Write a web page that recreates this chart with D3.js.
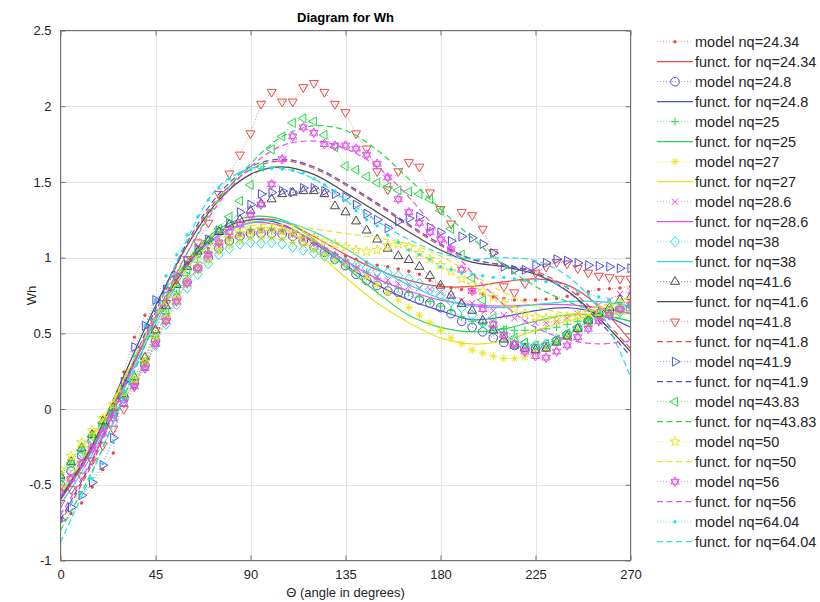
<!DOCTYPE html>
<html>
<head>
<meta charset="utf-8">
<script src="https://cdn.jsdelivr.net/npm/d3@7"></script>
<style>
  body { margin: 0; background: #fff; }
  svg { display: block; font-family: "Liberation Sans", Arial, sans-serif; }
</style>
</head>
<body>
<svg id="chart" width="820" height="602"></svg>
<script>
// ---- data -------------------------------------------------------------
const modelAngles = [0,5,10,15,20,25,30,35,40,45,50,55,60,65,70,75,80,85,90,95,100,105,110,115,120,125,130,135,140,145,150,155,160,165,170,175,180,185,190,195,200,205,210,215,220,225,230,235,240,245,250,255,260,265,270];
const fnAngles = [0,15,30,45,60,75,90,105,120,135,150,165,180,195,210,225,240,255,270];

const nqValues = ["24.34","24.8","25","27","28.6","38","41.6","41.8","41.9","43.83","50","56","64.04"];

const xTicks = [0,45,90,135,180,225,270];
const yTicks = [-1,-0.5,0,0.5,1,1.5,2,2.5];

// model results (one value every 5 degrees)
const model2434 = [-0.735,-0.69,-0.62,-0.515,-0.40,-0.29,0.245,0.475,0.62,0.72,0.80,0.88,0.95,1.01,1.06,1.10,1.13,1.15,1.17,
  1.175,1.18,1.17,1.15,1.12,1.09,1.06,1.03,1.01,0.99,0.97,0.95,0.94,0.925,0.91,0.89,0.85,0.82,0.80,0.79,0.78,0.76,0.74,0.73,0.72,0.72,0.72,0.725,0.73,0.745,0.76,0.775,0.79,0.795,0.80,0.81];
const model248 = [-0.50,-0.41,-0.31,-0.21,-0.12,-0.03,0.07,0.17,0.29,0.45,0.60,0.73,0.84,0.93,1.00,1.06,1.11,1.14,1.16,
  1.16,1.16,1.155,1.14,1.11,1.07,1.035,0.99,0.947,0.89,0.85,0.816,0.78,0.77,0.75,0.72,0.70,0.67,0.63,0.58,0.54,0.51,0.47,0.44,0.42,0.405,0.40,0.41,0.45,0.49,0.53,0.585,0.63,0.65,0.66,0.66];
const model25 = [-0.43,-0.34,-0.25,-0.17,-0.09,0.0,0.09,0.19,0.31,0.48,0.63,0.76,0.88,0.97,1.04,1.09,1.13,1.16,1.18,
  1.19,1.19,1.18,1.16,1.13,1.10,1.06,1.02,0.98,0.94,0.90,0.86,0.83,0.80,0.77,0.74,0.71,0.68,0.65,0.61,0.58,0.56,0.54,0.53,0.52,0.52,0.52,0.53,0.54,0.56,0.58,0.60,0.62,0.63,0.64,0.65];
const model27 = [-0.42,-0.33,-0.24,-0.16,-0.08,0.01,0.09,0.18,0.29,0.44,0.58,0.71,0.82,0.91,0.98,1.04,1.08,1.11,1.13,
  1.13,1.13,1.12,1.10,1.08,1.05,1.02,0.98,0.95,0.92,0.87,0.82,0.77,0.72,0.67,0.62,0.57,0.52,0.47,0.43,0.39,0.37,0.35,0.335,0.335,0.345,0.37,0.40,0.44,0.48,0.52,0.56,0.60,0.63,0.66,0.68];
const model286 = [-0.53,-0.44,-0.34,-0.24,-0.14,-0.04,0.06,0.16,0.28,0.44,0.59,0.72,0.84,0.93,1.01,1.07,1.12,1.15,1.17,
  1.18,1.18,1.17,1.15,1.12,1.09,1.05,1.01,0.97,0.93,0.90,0.87,0.85,0.83,0.81,0.80,0.79,0.77,0.75,0.72,0.70,0.68,0.65,0.62,0.60,0.58,0.57,0.57,0.58,0.60,0.63,0.66,0.69,0.72,0.76,0.78];
const model38 = [-0.47,-0.38,-0.29,-0.20,-0.11,-0.02,0.07,0.16,0.27,0.42,0.56,0.69,0.80,0.89,0.96,1.02,1.06,1.09,1.10,
  1.095,1.10,1.09,1.07,1.05,1.03,1.01,0.99,0.97,0.95,0.93,0.91,0.90,0.88,0.86,0.83,0.79,0.75,0.71,0.67,0.62,0.57,0.52,0.48,0.45,0.43,0.42,0.43,0.46,0.49,0.53,0.56,0.59,0.62,0.64,0.66];
const model416 = [-0.44,-0.35,-0.26,-0.17,-0.08,0.01,0.10,0.21,0.34,0.52,0.68,0.82,0.94,1.04,1.11,1.17,1.22,1.25,1.31,
  1.357,1.386,1.42,1.43,1.44,1.44,1.42,1.34,1.30,1.24,1.18,1.12,1.06,1.01,0.985,0.94,0.88,0.816,0.75,0.695,0.65,0.585,0.52,0.46,0.42,0.40,0.39,0.40,0.44,0.48,0.53,0.585,0.63,0.67,0.72,0.74];
const model418 = [-0.62,-0.53,-0.44,-0.34,-0.24,-0.13,0.0,0.15,0.32,0.52,0.70,0.86,0.99,1.10,1.23,1.42,1.555,1.68,1.82,
  2.015,2.094,2.03,2.03,2.125,2.153,2.094,2.015,1.96,1.82,1.72,1.57,1.45,1.57,1.63,1.60,1.43,1.32,1.225,1.30,1.28,1.19,1.035,0.81,0.77,0.83,0.90,0.94,0.97,0.96,0.93,0.90,0.88,0.87,0.86,0.86];
const model419 = [-0.73,-0.65,-0.57,-0.485,-0.37,-0.19,0.18,0.41,0.55,0.72,0.79,0.88,0.98,1.06,1.12,1.18,1.23,1.30,1.35,
  1.42,1.43,1.44,1.43,1.46,1.46,1.44,1.42,1.40,1.35,1.29,1.25,1.195,1.24,1.26,1.27,1.20,1.167,1.11,1.14,1.13,1.09,1.03,0.94,0.92,0.92,0.95,0.965,0.99,0.98,0.965,0.95,0.945,0.94,0.93,0.93];
const model4383 = [-0.45,-0.36,-0.27,-0.18,-0.09,0.0,0.09,0.19,0.31,0.48,0.64,0.79,0.92,1.03,1.11,1.19,1.27,1.375,1.48,
  1.60,1.715,1.80,1.89,1.92,1.90,1.81,1.73,1.605,1.58,1.535,1.495,1.467,1.445,1.436,1.42,1.386,1.31,1.19,1.02,0.866,0.72,0.60,0.52,0.47,0.44,0.42,0.43,0.46,0.50,0.54,0.58,0.62,0.65,0.67,0.68];
const model50 = [-0.40,-0.31,-0.22,-0.14,-0.06,0.03,0.11,0.20,0.31,0.46,0.60,0.73,0.84,0.94,1.02,1.08,1.13,1.16,1.18,
  1.19,1.19,1.18,1.17,1.15,1.13,1.11,1.09,1.07,1.05,1.04,1.05,1.08,1.09,1.07,1.03,0.99,0.95,0.91,0.86,0.82,0.78,0.74,0.70,0.66,0.63,0.61,0.60,0.60,0.61,0.62,0.64,0.66,0.68,0.70,0.72];
const model56 = [-0.55,-0.46,-0.36,-0.26,-0.16,-0.06,0.04,0.15,0.27,0.43,0.58,0.71,0.83,0.93,1.02,1.10,1.17,1.22,1.28,
  1.35,1.485,1.65,1.80,1.86,1.825,1.75,1.74,1.74,1.72,1.68,1.62,1.53,1.386,1.30,1.23,1.17,1.12,1.055,0.92,0.78,0.66,0.56,0.49,0.43,0.38,0.35,0.34,0.38,0.42,0.475,0.53,0.58,0.62,0.66,0.69];
const model6404 = [-0.68,-0.62,-0.55,-0.46,-0.36,-0.22,0.12,0.35,0.55,0.72,0.88,1.02,1.15,1.27,1.38,1.46,1.52,1.56,1.58,
  1.585,1.59,1.585,1.575,1.56,1.52,1.48,1.44,1.38,1.31,1.25,1.21,1.15,1.10,1.05,1.02,0.99,0.94,0.92,0.90,0.89,0.88,0.87,0.87,0.86,0.85,0.85,0.84,0.83,0.81,0.78,0.76,0.74,0.72,0.70,0.68];

// fitted functions (one value every 15 degrees)
const funct2434 = [-0.58,-0.26,0.17,0.60,0.96,1.17,1.25,1.24,1.14,1.02,0.92,0.85,0.81,0.81,0.84,0.86,0.82,0.68,0.45];
const funct248  = [-0.60,-0.27,0.16,0.59,0.95,1.17,1.25,1.22,1.10,0.95,0.82,0.72,0.65,0.59,0.61,0.65,0.67,0.63,0.54];
const funct25   = [-0.57,-0.25,0.18,0.61,0.98,1.19,1.27,1.25,1.12,0.94,0.77,0.62,0.54,0.51,0.53,0.58,0.62,0.62,0.58];
const funct27   = [-0.55,-0.23,0.19,0.61,0.97,1.17,1.24,1.20,1.05,0.87,0.70,0.57,0.47,0.43,0.45,0.52,0.58,0.62,0.63];
const funct286  = [-0.59,-0.27,0.16,0.59,0.95,1.15,1.23,1.21,1.11,0.98,0.86,0.78,0.72,0.69,0.68,0.69,0.69,0.67,0.63];
const funct38   = [-0.63,-0.30,0.13,0.56,0.93,1.14,1.23,1.24,1.17,1.06,0.93,0.82,0.73,0.68,0.67,0.69,0.71,0.71,0.68];
const funct416  = [-0.59,-0.24,0.22,0.68,1.08,1.38,1.55,1.60,1.55,1.43,1.30,1.17,1.05,0.97,0.94,0.89,0.78,0.60,0.38];
const funct418  = [-0.75,-0.36,0.14,0.64,1.08,1.40,1.58,1.64,1.59,1.48,1.35,1.21,1.08,0.99,0.95,0.91,0.80,0.62,0.40];
const funct419  = [-0.73,-0.34,0.16,0.66,1.10,1.42,1.60,1.65,1.60,1.49,1.36,1.22,1.09,0.99,0.95,0.90,0.78,0.58,0.35];
const funct4383 = [-0.80,-0.41,0.08,0.58,1.03,1.38,1.62,1.80,1.87,1.84,1.71,1.52,1.32,1.13,0.95,0.81,0.71,0.64,0.58];
const funct50   = [-0.52,-0.20,0.20,0.60,0.93,1.13,1.21,1.22,1.19,1.16,1.13,1.09,1.01,0.89,0.77,0.68,0.63,0.62,0.65];
const funct56   = [-0.70,-0.33,0.14,0.61,1.03,1.36,1.60,1.74,1.77,1.72,1.60,1.40,1.15,0.90,0.69,0.54,0.46,0.43,0.45];
const funct6404 = [-0.88,-0.42,0.08,0.62,1.12,1.47,1.59,1.59,1.52,1.38,1.24,1.12,1.03,0.99,1.00,0.98,0.88,0.66,0.21];

const modelSets = [model2434, model248, model25, model27, model286, model38, model416,
                   model418, model419, model4383, model50, model56, model6404];
const functSets = [funct2434, funct248, funct25, funct27, funct286, funct38, funct416,
                   funct418, funct419, funct4383, funct50, funct56, funct6404];

// ---- styles -----------------------------------------------------------
const palette = {
  r: "#e84a4a", b: "#5050d2", g: "#22dc44", y: "#e6e61e",
  m: "#ec4cec", c: "#2adcea", k: "#4a4a4a"
};
const seriesStyle = [
  { c: "r", mk: "dot",      dash: false },
  { c: "b", mk: "circle",   dash: false },
  { c: "g", mk: "plus",     dash: false },
  { c: "y", mk: "asterisk", dash: false },
  { c: "m", mk: "times",    dash: false },
  { c: "c", mk: "diamond",  dash: false },
  { c: "k", mk: "triUp",    dash: false },
  { c: "r", mk: "triDown",  dash: true },
  { c: "b", mk: "triRight", dash: true },
  { c: "g", mk: "triLeft",  dash: true },
  { c: "y", mk: "penta",    dash: true },
  { c: "m", mk: "hexa",     dash: true },
  { c: "c", mk: "dot",      dash: true }
];
const dashPattern = "6,3.5";

// marker shapes centred on (0,0)
function polygon(n, r, rot) {
  const pts = d3.range(n).map(i => {
    const a = rot + i * 2 * Math.PI / n;
    return [r * Math.cos(a), r * Math.sin(a)];
  });
  return "M" + pts.map(p => p[0].toFixed(2) + "," + p[1].toFixed(2)).join("L") + "Z";
}
function star(n, ro, ri, rot) {
  const pts = [];
  for (let i = 0; i < 2 * n; i++) {
    const a = rot + i * Math.PI / n, r = i % 2 ? ri : ro;
    pts.push([r * Math.cos(a), r * Math.sin(a)]);
  }
  return "M" + pts.map(p => p[0].toFixed(2) + "," + p[1].toFixed(2)).join("L") + "Z";
}
function markerPath(kind) {
  const up = -Math.PI / 2;
  switch (kind) {
    case "dot":      return "M1.7,0A1.7,1.7 0 1 1 -1.7,0A1.7,1.7 0 1 1 1.7,0Z";
    case "circle":   return "M4.3,0A4.3,4.3 0 1 1 -4.3,0A4.3,4.3 0 1 1 4.3,0Z";
    case "plus":     return "M-4,0H4M0,-4V4";
    case "times":    return "M-3.2,-3.2L3.2,3.2M-3.2,3.2L3.2,-3.2";
    case "asterisk": return "M-4,0H4M0,-4V4M-2.9,-2.9L2.9,2.9M-2.9,2.9L2.9,-2.9";
    case "diamond":  return "M0,-5.2L4.4,0L0,5.2L-4.4,0Z";
    case "triUp":    return polygon(3, 5.2, up);
    case "triDown":  return polygon(3, 5.2, Math.PI / 2);
    case "triRight": return polygon(3, 5.2, 0);
    case "triLeft":  return polygon(3, 5.2, Math.PI);
    case "penta":    return star(5, 5.2, 2.1, up);
    case "hexa":     return polygon(3, 4.8, up) + polygon(3, 4.8, Math.PI / 2);
  }
}

// ---- chart ------------------------------------------------------------
const svg = d3.select("#chart");
const plot = { left: 60.5, right: 630.5, top: 30.5, bottom: 560.5 };

const x = d3.scaleLinear().domain([0, 270]).range([plot.left, plot.right]);
const y = d3.scaleLinear().domain([-1, 2.5]).range([plot.bottom, plot.top]);

svg.append("rect").attr("width", 820).attr("height", 602).attr("fill", "#fff");

// grid
const grid = svg.append("g").attr("stroke", "#e4e4e4").attr("stroke-width", 1);
grid.selectAll("line.gx").data(xTicks).join("line")
  .attr("x1", d => Math.round(x(d)) + 0.5).attr("x2", d => Math.round(x(d)) + 0.5)
  .attr("y1", plot.top).attr("y2", plot.bottom);
grid.selectAll("line.gy").data(yTicks).join("line")
  .attr("y1", d => Math.round(y(d)) + 0.5).attr("y2", d => Math.round(y(d)) + 0.5)
  .attr("x1", plot.left).attr("x2", plot.right);

// axes with inward ticks on all four sides
const axisColor = "#707070";
const xAxisB = d3.axisBottom(x).tickValues(xTicks).tickSizeInner(-5).tickSizeOuter(0).tickPadding(9).tickFormat(d3.format("d"));
const xAxisT = d3.axisTop(x).tickValues(xTicks).tickSizeInner(-5).tickSizeOuter(0).tickFormat("");
const yAxisL = d3.axisLeft(y).tickValues(yTicks).tickSizeInner(-5).tickSizeOuter(0).tickPadding(9).tickFormat(d => String(d));
const yAxisR = d3.axisRight(y).tickValues(yTicks).tickSizeInner(-5).tickSizeOuter(0).tickFormat("");

function styleAxis(g) {
  g.select(".domain").remove();
  g.selectAll(".tick line").attr("stroke", axisColor);
  g.selectAll(".tick text").attr("fill", "#262626").attr("font-size", 13)
    .attr("font-family", "'Liberation Sans', Arial, sans-serif");
}
svg.append("g").attr("transform", `translate(0,${plot.bottom})`).call(xAxisB).call(styleAxis);
svg.append("g").attr("transform", `translate(0,${plot.top})`).call(xAxisT).call(styleAxis);
svg.append("g").attr("transform", `translate(${plot.left},0)`).call(yAxisL).call(styleAxis);
svg.append("g").attr("transform", `translate(${plot.right},0)`).call(yAxisR).call(styleAxis);

// clip region
svg.append("clipPath").attr("id", "plotClip").append("rect")
  .attr("x", plot.left).attr("y", plot.top)
  .attr("width", plot.right - plot.left).attr("height", plot.bottom - plot.top);

const layer = svg.append("g").attr("clip-path", "url(#plotClip)");

const modelLine = d3.line().x((d, i) => x(modelAngles[i])).y(d => y(d));
const functLine = d3.line().x((d, i) => x(fnAngles[i])).y(d => y(d)).curve(d3.curveCatmullRom.alpha(0.5));

modelSets.forEach((vals, s) => {
  const st = seriesStyle[s], col = palette[st.c];
  const g = layer.append("g");
  // model: dotted connector + markers
  g.append("path").attr("d", modelLine(vals)).attr("fill", "none")
    .attr("stroke", col).attr("stroke-width", 0.8).attr("stroke-dasharray", "1,2")
    .attr("opacity", 0.8);
  const isDot = st.mk === "dot";
  g.selectAll("path.mk").data(vals).join("path")
    .attr("class", "mk")
    .attr("d", markerPath(st.mk))
    .attr("transform", (d, i) => `translate(${x(modelAngles[i])},${y(d)})`)
    .attr("fill", isDot ? col : "none")
    .attr("stroke", isDot ? "none" : col)
    .attr("stroke-width", 1);
  // fitted function
  g.append("path").attr("d", functLine(functSets[s])).attr("fill", "none")
    .attr("stroke", col).attr("stroke-width", 1.2)
    .attr("stroke-dasharray", st.dash ? dashPattern : null);
});

// frame
svg.append("rect")
  .attr("x", plot.left).attr("y", plot.top)
  .attr("width", plot.right - plot.left).attr("height", plot.bottom - plot.top)
  .attr("fill", "none").attr("stroke", axisColor).attr("stroke-width", 1);

// titles
svg.append("text").attr("x", (plot.left + plot.right) / 2).attr("y", 22)
  .attr("text-anchor", "middle").attr("font-size", 13).attr("font-weight", "bold")
  .attr("fill", "#000").text("Diagram for Wh");
svg.append("text").attr("x", (plot.left + plot.right) / 2).attr("y", 597)
  .attr("text-anchor", "middle").attr("font-size", 13).attr("fill", "#262626")
  .text("\u0398 (angle in degrees)");
svg.append("text").attr("transform", `translate(36,${(plot.top + plot.bottom) / 2}) rotate(-90)`)
  .attr("text-anchor", "middle").attr("font-size", 13).attr("fill", "#262626").text("Wh");

// legend
const legend = svg.append("g");
const legX0 = 657, legX1 = 693, legTextX = 695, legY0 = 41.7, legStep = 20;
nqValues.forEach((nq, s) => {
  const st = seriesStyle[s], col = palette[st.c];
  const yM = legY0 + (2 * s) * legStep, yF = legY0 + (2 * s + 1) * legStep;
  legend.append("line").attr("x1", legX0).attr("x2", legX1).attr("y1", yM).attr("y2", yM)
    .attr("stroke", col).attr("stroke-width", 0.8).attr("stroke-dasharray", "1,2").attr("opacity", 0.8);
  const isDot = st.mk === "dot";
  legend.append("path").attr("d", markerPath(st.mk))
    .attr("transform", `translate(${(legX0 + legX1) / 2},${yM})`)
    .attr("fill", isDot ? col : "none").attr("stroke", isDot ? "none" : col).attr("stroke-width", 1);
  legend.append("text").attr("x", legTextX).attr("y", yM).attr("dy", "0.35em")
    .attr("font-size", 14.5).attr("fill", "#262626").text("model nq=" + nq);
  legend.append("line").attr("x1", legX0).attr("x2", legX1).attr("y1", yF).attr("y2", yF)
    .attr("stroke", col).attr("stroke-width", 1.2).attr("stroke-dasharray", st.dash ? dashPattern : null);
  legend.append("text").attr("x", legTextX).attr("y", yF).attr("dy", "0.35em")
    .attr("font-size", 14.5).attr("fill", "#262626").text("funct. for nq=" + nq);
});
</script>
</body>
</html>
